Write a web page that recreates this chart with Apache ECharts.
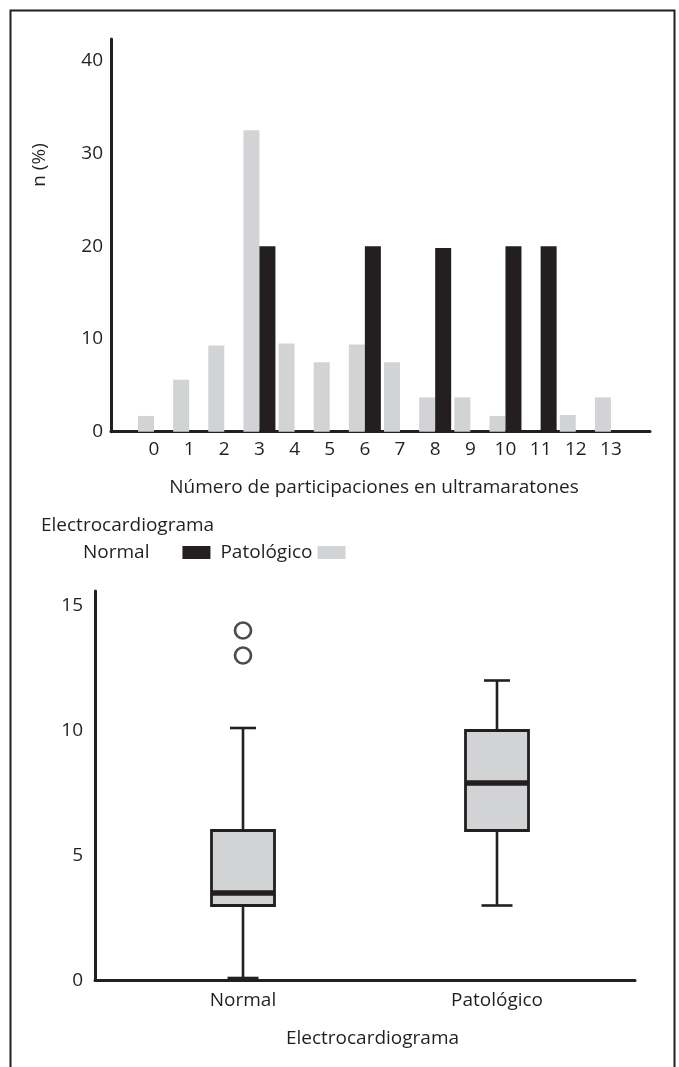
<!DOCTYPE html>
<html><head><meta charset="utf-8">
<script src="https://cdn.jsdelivr.net/npm/echarts@6/dist/echarts.min.js"></script>
<style>html,body{margin:0;padding:0;background:#fff}#c{width:679px;height:1067px}</style>
</head><body><div id="c"></div>
<script>
// ---- data ----
const participaciones = ['0','1','2','3','4','5','6','7','8','9','10','11','12','13'];
const normalPct =     ['-','-','-',20,'-','-',20,'-',19.8,'-',20,20,'-','-'];
const patologicoPct = [1.7,5.6,9.3,32.5,9.5,7.5,9.4,7.5,3.7,3.7,1.7,'-',1.8,3.7];
const grupos = ['Normal','Patológico'];
// [min, Q1, median, Q3, max]
const boxNormal = [0.1, 3, 3.5, 6, 10.1];
const boxPatologico = [3, 6, 7.9, 10, 12];
const outliersNormal = [14, 13];

const INK = '#231f20', GREY = '#d1d3d4';
const FONT = 'Open Sans';
const FS = 19;

const chart = echarts.init(document.getElementById('c'), null, {renderer:'canvas'});

function renderBox(params, api) {
  const x = api.value(0);
  const lo = api.coord([x, api.value(1)]);
  const q1 = api.coord([x, api.value(2)]);
  const med = api.coord([x, api.value(3)]);
  const q3 = api.coord([x, api.value(4)]);
  const hi = api.coord([x, api.value(5)]);
  const cx = lo[0];
  const bw = 63, capTop = 26, capBot = 31;
  const ls = {stroke: INK, lineWidth: 2.6};
  return {type:'group', children:[
    {type:'line', shape:{x1:cx,y1:hi[1],x2:cx,y2:q3[1]}, style:ls},
    {type:'line', shape:{x1:cx,y1:q1[1],x2:cx,y2:lo[1]}, style:ls},
    {type:'line', shape:{x1:cx-capTop/2,y1:hi[1],x2:cx+capTop/2,y2:hi[1]}, style:ls},
    {type:'line', shape:{x1:cx-capBot/2,y1:lo[1],x2:cx+capBot/2,y2:lo[1]}, style:ls},
    {type:'rect', shape:{x:cx-bw/2,y:q3[1],width:bw,height:q1[1]-q3[1]}, style:{fill:GREY, stroke:INK, lineWidth:2.8}},
    {type:'line', shape:{x1:cx-bw/2,y1:med[1],x2:cx+bw/2,y2:med[1]}, style:{stroke:INK, lineWidth:5.6}}
  ]};
}

const axisLineStyle = {show:true, lineStyle:{color:INK, width:3}};
const labelStyle = {color:INK, fontSize:FS, fontFamily:FONT};

chart.setOption({
  animation:false,
  backgroundColor:'#fff',
  textStyle:{fontFamily:FONT, color:INK},
  grid:[
    {left:111, top:39, width:539, height:392.7},
    {left:136.4, top:39, width:492.1, height:392.7},
    {left:95, top:591, width:540, height:389.5},
    {left:116, top:591, width:508, height:389.5}
  ],
  xAxis:[
    {gridIndex:0, type:'value', min:0, max:1, axisLine:axisLineStyle, axisTick:{show:false}, axisLabel:{show:false}, splitLine:{show:false}},
    {gridIndex:1, type:'category', data:participaciones, axisLine:{show:false}, axisTick:{show:false},
      axisLabel:Object.assign({margin:8}, labelStyle), splitLine:{show:false}},
    {gridIndex:2, type:'value', min:0, max:1, offset:2, axisLine:axisLineStyle, axisTick:{show:false}, axisLabel:{show:false}, splitLine:{show:false}},
    {gridIndex:3, type:'category', data:grupos, axisLine:{show:false}, axisTick:{show:false},
      axisLabel:Object.assign({margin:11}, labelStyle), splitLine:{show:false}}
  ],
  yAxis:[
    {gridIndex:0, type:'value', min:0, max:42.34, interval:10, axisLine:axisLineStyle, axisTick:{show:false},
      axisLabel:Object.assign({margin:8, showMaxLabel:false}, labelStyle), splitLine:{show:false}},
    {gridIndex:1, type:'value', min:0, max:42.34, show:false, splitLine:{show:false}},
    {gridIndex:2, type:'value', min:0, max:15.58, interval:5, axisLine:axisLineStyle, axisTick:{show:false},
      axisLabel:Object.assign({margin:12, showMaxLabel:false}, labelStyle), splitLine:{show:false}},
    {gridIndex:3, type:'value', min:0, max:15.58, show:false, splitLine:{show:false}}
  ],
  legend:{
    data:['Normal','Patológico'],
    left:83, top:543, padding:0, align:'right', orient:'horizontal',
    itemWidth:28, itemHeight:13, itemGap:10, icon:'rect',
    textStyle:{color:INK, fontSize:FS, fontFamily:FONT, rich:{p:{fontSize:FS, fontFamily:FONT, color:INK, padding:[0,28,0,0]}}},
    formatter:function(n){ return n === 'Normal' ? '{p|' + n + '}' : n; },
    selectedMode:false
  },
  series:[
    {name:'Patológico', type:'bar', xAxisIndex:1, yAxisIndex:1, data:patologicoPct, barWidth:16, barGap:'0%', itemStyle:{color:GREY}},
    {name:'Normal', type:'bar', xAxisIndex:1, yAxisIndex:1, data:normalPct, barWidth:16, barGap:'0%', itemStyle:{color:INK}},
    {name:'box', type:'custom', xAxisIndex:3, yAxisIndex:3, renderItem:renderBox,
      encode:{x:0, y:[1,2,3,4,5]},
      data:[[0].concat(boxNormal), [1].concat(boxPatologico)]},
    {name:'outliers', type:'scatter', xAxisIndex:3, yAxisIndex:3, symbol:'circle', symbolSize:16,
      itemStyle:{color:'#fff', borderColor:INK, borderWidth:2.7},
      data:outliersNormal.map(function(v){return [grupos[0], v];})}
  ],
  graphic:[
    {type:'rect', shape:{x:10.5, y:10.5, width:664, height:1200}, style:{fill:'none', stroke:INK, lineWidth:2}, silent:true},
    {type:'text', x:374, y:488, style:{text:'Número de participaciones en ultramaratones', fill:INK, font:FS+'px "'+FONT+'"', align:'center', verticalAlign:'middle'}},
    {type:'text', x:41, y:526, style:{text:'Electrocardiograma', fill:INK, font:FS+'px "'+FONT+'"', align:'left', verticalAlign:'middle'}},
    {type:'text', x:40, y:165, rotation:Math.PI/2, style:{text:'n (%)', fill:INK, font:FS+'px "'+FONT+'"', align:'center', verticalAlign:'middle'}},
    {type:'text', x:372.5, y:1039, style:{text:'Electrocardiograma', fill:INK, font:FS+'px "'+FONT+'"', align:'center', verticalAlign:'middle'}}
  ]
});
</script></body></html>
